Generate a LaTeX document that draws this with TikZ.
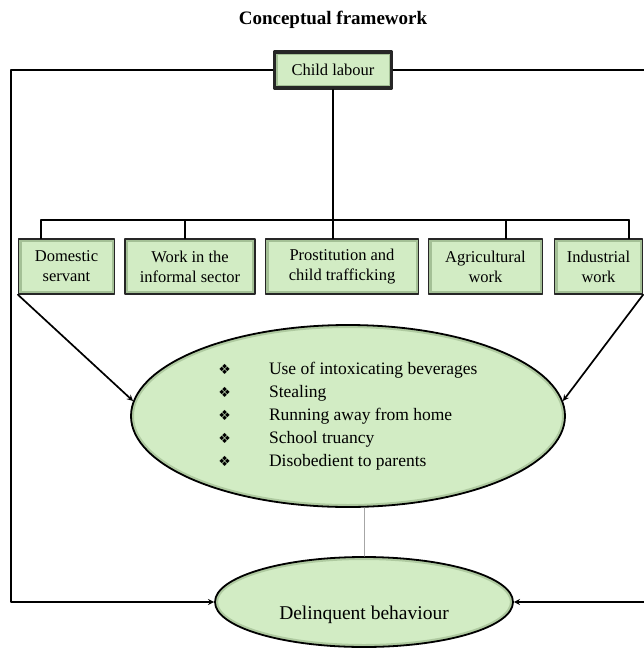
\documentclass[tikz,border=0pt]{standalone}
\usepackage{fontspec}
\setmainfont{Liberation Serif}
\newfontfamily\bulletfont{DejaVu Sans}
\usetikzlibrary{shapes.geometric,calc}
\definecolor{leafgreen}{RGB}{210,236,196}
\definecolor{leafedge}{RGB}{110,140,95}
\tikzset{
	cbox/.style={draw=black!85, line width=1.3pt, fill=leafgreen, align=center, inner sep=0pt,
		minimum height=55pt, font=\fontsize{16.5}{20}\selectfont,
		path picture={\draw[leafedge, opacity=.45, line width=6pt]
			(path picture bounding box.south west) rectangle (path picture bounding box.north east);}},
	coval/.style={ellipse, draw=black, line width=1.8pt, fill=leafgreen, inner sep=0pt,
		path picture={\draw[leafedge, opacity=.35, line width=6pt]
			let \p1=($(path picture bounding box.north east)-(path picture bounding box.center)$) in
			(path picture bounding box.center) ellipse [x radius=\x1, y radius=\y1];}},
	link/.style={line width=1.7pt, black},
}
\newcommand\lsbullet{{\bulletfont\fontsize{14}{14}\selectfont ❖}}
\begin{document}
\begin{tikzpicture}[x=1pt, y=-1pt, line join=round, line cap=round, >=stealth]
	\def\lx{11} \def\rx{650} \def\busy{220}
	\useasboundingbox (0,0) rectangle (644,651);
	%\draw[gray!40] (0,0) grid[step=50] (644,651);
	\node[font=\bfseries\fontsize{19}{22}\selectfont] (title) at (333,20) {Conceptual framework};
	\node[cbox, line width=3.5pt, minimum width=117pt, minimum height=36pt] (child) at (333,70) {Child labour};
	\node[cbox, minimum width=96pt] (dom) at (66.5,266.5) {Domestic\\servant};
	\node[cbox, minimum width=130pt] (work) at (190,266.5) {Work in the\\informal sector};
	\node[cbox, minimum width=153pt] (prost) at (342,266.5) {Prostitution and\\child trafficking};
	\node[cbox, minimum width=114pt] (agri) at (485.5,266.5) {Agricultural\\work};
	\node[cbox, minimum width=88pt] (ind) at (598.5,266.5) {Industrial\\work};
	\node[coval, minimum width=434pt, minimum height=182pt, font=\fontsize{17.5}{23}\selectfont] (acts) at (348,416)
		{\begin{tabular}{@{}l@{\hspace{38pt}}l@{}}
			\lsbullet & Use of intoxicating beverages\\
			\lsbullet & Stealing\\
			\lsbullet & Running away from home\\
			\lsbullet & School truancy\\
			\lsbullet & Disobedient to parents
		\end{tabular}};
	\node[coval, minimum width=298pt, minimum height=90pt, font=\fontsize{19.5}{22}\selectfont] (delinq) at (364,602)
		{\raisebox{-17pt}[0pt][0pt]{Delinquent behaviour}};
	% tree from child labour
	\coordinate (busL) at (41,\busy);
	\coordinate (busR) at (629,\busy);
	\draw[link] (child.south) -- (child.south |- busL);
	\draw[link] (busL) -- (busR);
	\foreach \n/\x in {dom/41,work/185,prost/333,agri/506,ind/629}
		\draw[link] (\x,\busy) -- (\n.north -| \x,0);
	% outer links
	\draw[link,->] (child.west) -| (\lx,\busy) |- (delinq.west);
	\draw[link,->] (child.east) -| (\rx,\busy) |- (delinq.east);
	\draw[link,->] (dom.south west) -- (acts.176);
	\draw[link,->] (ind.south east) -- (acts.4);
	\draw[gray!70, line width=.8pt] (delinq.north) -- (delinq.north |- acts.south);
\end{tikzpicture}
\end{document}
